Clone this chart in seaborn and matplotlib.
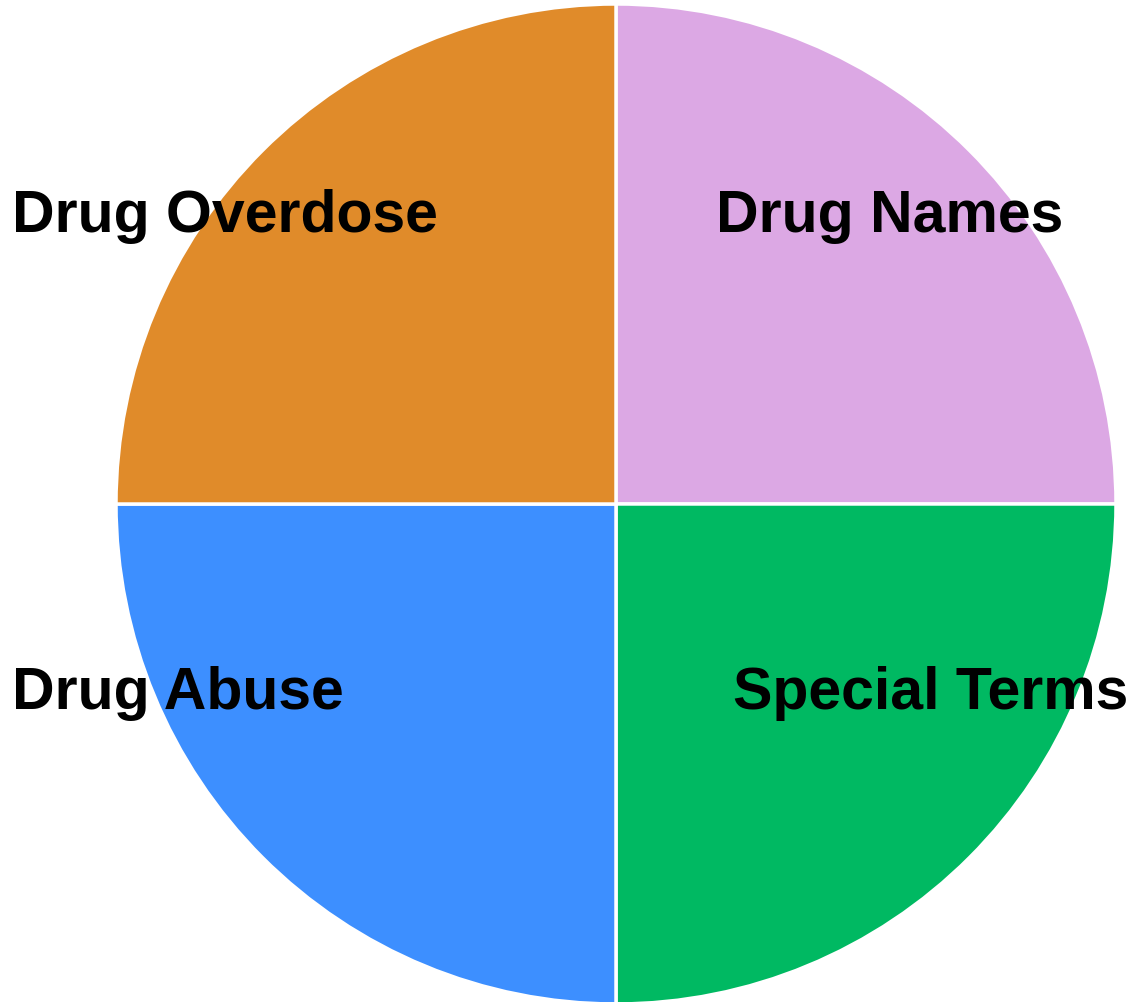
import seaborn as sns
import matplotlib.pyplot as plt

sns.set_theme(style="white")
plt.rcParams['font.family'] = ['Liberation Sans', 'DejaVu Sans']

categories = ['Drug Names', 'Special Terms', 'Drug Abuse', 'Drug Overdose']
values = [25, 25, 25, 25]
colors = ['#DCA8E4', '#00B962', '#3D8FFF', '#E08B2A']

# label anchors (left edge, vertical centre) in data units, radius = 1
label_x = [0.20, 0.234, -1.208, -1.208]
label_y = [0.578, -0.378, -0.378, 0.578]

fig = plt.figure(figsize=(11.34, 10.03), dpi=100)
ax = fig.add_axes([0, 0, 1, 1])
ax.pie(values, colors=colors, startangle=90, counterclock=False, radius=1,
       wedgeprops=dict(edgecolor='white', linewidth=2.5))
for name, x, y in zip(categories, label_x, label_y):
    ax.text(x, y, name, ha='left', va='center', fontsize=42.5, fontweight='bold', color='black')

ax.set_xlim(-1.232, 1.036)
ax.set_ylim(-0.996, 1.01)
ax.set_aspect('equal')
ax.axis('off')
fig.savefig('out.png', dpi=100)
